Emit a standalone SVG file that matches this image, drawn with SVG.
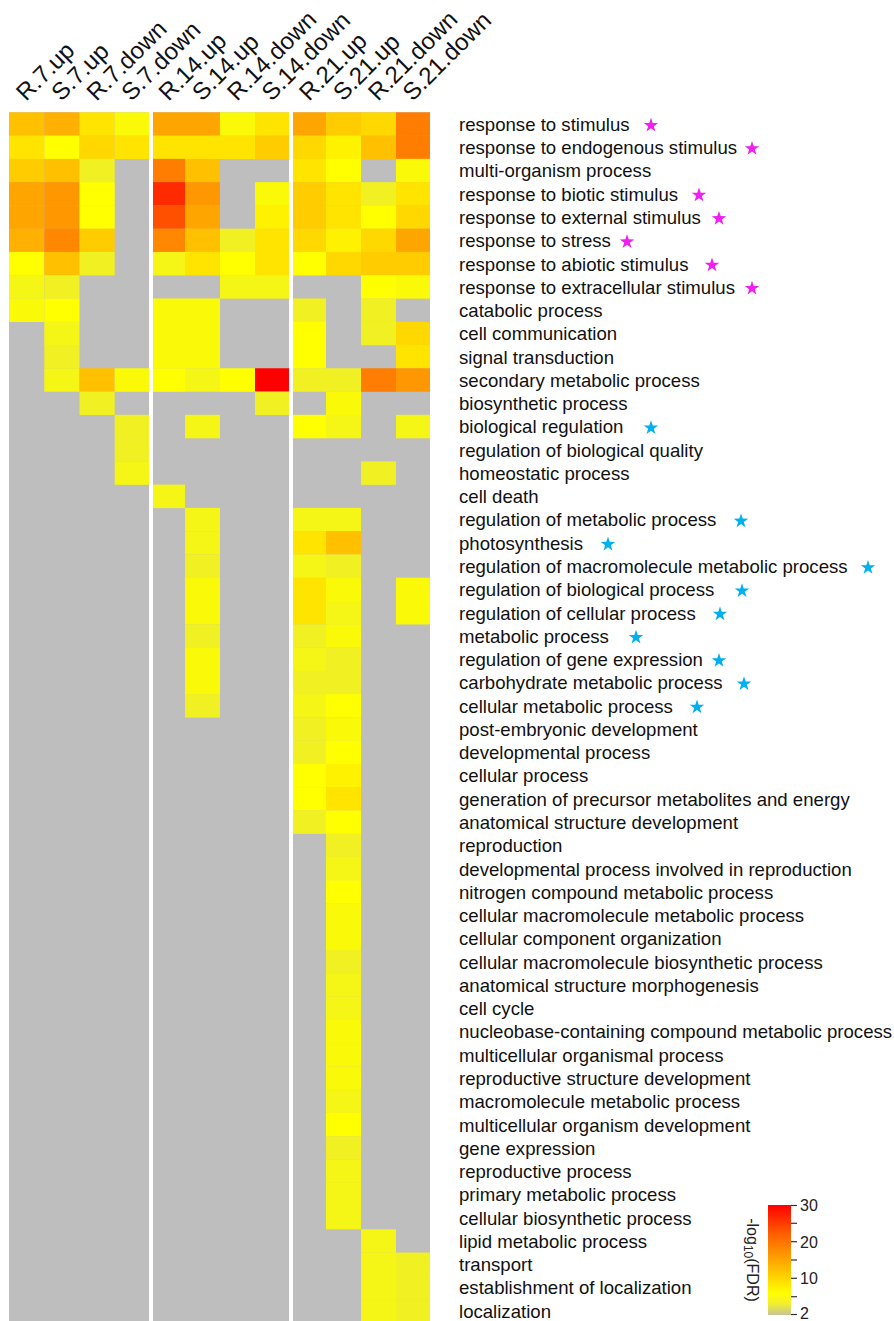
<svg xmlns="http://www.w3.org/2000/svg" width="894" height="1321" viewBox="0 0 894 1321">
<style>
.G{fill:#bebebe}
.a{fill:#ffff00}.b{fill:#fafa08}.c{fill:#f5f516}.d{fill:#f0f022}.e{fill:#fff200}.f{fill:#ffe400}.h{fill:#ffd800}.i{fill:#ffcc00}.j{fill:#ffc000}.k{fill:#ffb000}.l{fill:#ffa500}.m{fill:#ff9800}.n{fill:#ff8800}.o{fill:#ff7d00}.p{fill:#ff5000}.q{fill:#ff2a00}.r{fill:#ff0000}
.lbl{font-family:"Liberation Sans",Arial,sans-serif;font-size:18.6px;fill:#111}
.col{font-family:"Liberation Sans",Arial,sans-serif;font-size:24px;fill:#111}
.tk{font-family:"Liberation Sans",Arial,sans-serif;font-size:16px;fill:#222}
.sm{fill:#f01ef0}.sb{fill:#00b0f0}
</style>
<defs>
<polygon id="star" points="0,-7.6 1.734,-2.387 7.228,-2.349 2.806,0.912 4.467,6.149 0,2.95 -4.467,6.149 -2.806,0.912 -7.228,-2.349 -1.734,-2.387"/>
<linearGradient id="cb" x1="0" y1="0" x2="0" y2="1">
<stop offset="0" stop-color="#ff0000"/>
<stop offset="0.25" stop-color="#ff5a00"/>
<stop offset="0.5" stop-color="#ffa500"/>
<stop offset="0.8" stop-color="#ffff00"/>
<stop offset="0.9" stop-color="#f2ee30"/>
<stop offset="1" stop-color="#c4c49a"/>
</linearGradient>
</defs>
<rect width="894" height="1321" fill="#fff"/>
<g id="column-labels">
<text class="col" transform="translate(26,102) rotate(-45)">R.7.up</text>
<text class="col" transform="translate(61.3,102) rotate(-45)">S.7.up</text>
<text class="col" transform="translate(96.5,102) rotate(-45)">R.7.down</text>
<text class="col" transform="translate(131.3,102) rotate(-45)">S.7.down</text>
<text class="col" transform="translate(168.4,102) rotate(-45)">R.14.up</text>
<text class="col" transform="translate(201.9,102) rotate(-45)">S.14.up</text>
<text class="col" transform="translate(236.9,102) rotate(-45)">R.14.down</text>
<text class="col" transform="translate(271.4,102) rotate(-45)">S.14.down</text>
<text class="col" transform="translate(308.9,102) rotate(-45)">R.21.up</text>
<text class="col" transform="translate(342.9,102) rotate(-45)">S.21.up</text>
<text class="col" transform="translate(377.9,102) rotate(-45)">R.21.down</text>
<text class="col" transform="translate(412.4,102) rotate(-45)">S.21.down</text>
</g>
<g id="heatmap-background">
<rect class="G" x="9" y="112.3" width="140" height="1210"/>
<rect class="G" x="153" y="112.3" width="136" height="1210"/>
<rect class="G" x="293" y="112.3" width="137" height="1210"/>
</g>
<g id="heatmap-cells">
<g id="r1" transform="translate(0,112.3)"><rect class="j" x="9" width="35.3" height="23.5"/><rect class="k" x="44.3" width="35.2" height="23.5"/><rect class="f" x="79.5" width="35.2" height="23.5"/><rect class="b" x="114.7" width="34.3" height="23.5"/><rect class="l" x="153" width="32" height="23.5"/><rect class="l" x="185" width="35" height="23.5"/><rect class="b" x="220" width="35" height="23.5"/><rect class="f" x="255" width="34" height="23.5"/><rect class="l" x="293" width="33" height="23.5"/><rect class="i" x="326" width="35" height="23.5"/><rect class="h" x="361" width="35" height="23.5"/><rect class="o" x="396" width="34" height="23.5"/></g>
<g id="r2" transform="translate(0,135.57)"><rect class="f" x="9" width="35.3" height="23.5"/><rect class="a" x="44.3" width="35.2" height="23.5"/><rect class="h" x="79.5" width="35.2" height="23.5"/><rect class="f" x="114.7" width="34.3" height="23.5"/><rect class="f" x="153" width="32" height="23.5"/><rect class="f" x="185" width="35" height="23.5"/><rect class="f" x="220" width="35" height="23.5"/><rect class="i" x="255" width="34" height="23.5"/><rect class="h" x="293" width="33" height="23.5"/><rect class="e" x="326" width="35" height="23.5"/><rect class="j" x="361" width="35" height="23.5"/><rect class="o" x="396" width="34" height="23.5"/></g>
<g id="r3" transform="translate(0,158.84)"><rect class="i" x="9" width="35.3" height="23.5"/><rect class="j" x="44.3" width="35.2" height="23.5"/><rect class="d" x="79.5" width="35.2" height="23.5"/><rect class="o" x="153" width="32" height="23.5"/><rect class="j" x="185" width="35" height="23.5"/><rect class="f" x="293" width="33" height="23.5"/><rect class="a" x="326" width="35" height="23.5"/><rect class="b" x="396" width="34" height="23.5"/></g>
<g id="r4" transform="translate(0,182.11)"><rect class="l" x="9" width="35.3" height="23.5"/><rect class="m" x="44.3" width="35.2" height="23.5"/><rect class="a" x="79.5" width="35.2" height="23.5"/><rect class="q" x="153" width="32" height="23.5"/><rect class="m" x="185" width="35" height="23.5"/><rect class="b" x="255" width="34" height="23.5"/><rect class="i" x="293" width="33" height="23.5"/><rect class="f" x="326" width="35" height="23.5"/><rect class="d" x="361" width="35" height="23.5"/><rect class="f" x="396" width="34" height="23.5"/></g>
<g id="r5" transform="translate(0,205.38)"><rect class="l" x="9" width="35.3" height="23.5"/><rect class="m" x="44.3" width="35.2" height="23.5"/><rect class="a" x="79.5" width="35.2" height="23.5"/><rect class="p" x="153" width="32" height="23.5"/><rect class="l" x="185" width="35" height="23.5"/><rect class="e" x="255" width="34" height="23.5"/><rect class="i" x="293" width="33" height="23.5"/><rect class="f" x="326" width="35" height="23.5"/><rect class="a" x="361" width="35" height="23.5"/><rect class="h" x="396" width="34" height="23.5"/></g>
<g id="r6" transform="translate(0,228.65)"><rect class="k" x="9" width="35.3" height="23.5"/><rect class="n" x="44.3" width="35.2" height="23.5"/><rect class="i" x="79.5" width="35.2" height="23.5"/><rect class="n" x="153" width="32" height="23.5"/><rect class="j" x="185" width="35" height="23.5"/><rect class="d" x="220" width="35" height="23.5"/><rect class="f" x="255" width="34" height="23.5"/><rect class="h" x="293" width="33" height="23.5"/><rect class="e" x="326" width="35" height="23.5"/><rect class="h" x="361" width="35" height="23.5"/><rect class="l" x="396" width="34" height="23.5"/></g>
<g id="r7" transform="translate(0,251.92)"><rect class="a" x="9" width="35.3" height="23.5"/><rect class="j" x="44.3" width="35.2" height="23.5"/><rect class="d" x="79.5" width="35.2" height="23.5"/><rect class="c" x="153" width="32" height="23.5"/><rect class="f" x="185" width="35" height="23.5"/><rect class="a" x="220" width="35" height="23.5"/><rect class="f" x="255" width="34" height="23.5"/><rect class="a" x="293" width="33" height="23.5"/><rect class="h" x="326" width="35" height="23.5"/><rect class="i" x="361" width="35" height="23.5"/><rect class="i" x="396" width="34" height="23.5"/></g>
<g id="r8" transform="translate(0,275.19)"><rect class="c" x="9" width="35.3" height="23.5"/><rect class="d" x="44.3" width="35.2" height="23.5"/><rect class="c" x="220" width="35" height="23.5"/><rect class="c" x="255" width="34" height="23.5"/><rect class="a" x="361" width="35" height="23.5"/><rect class="b" x="396" width="34" height="23.5"/></g>
<g id="r9" transform="translate(0,298.46)"><rect class="b" x="9" width="35.3" height="23.5"/><rect class="a" x="44.3" width="35.2" height="23.5"/><rect class="b" x="153" width="32" height="23.5"/><rect class="b" x="185" width="35" height="23.5"/><rect class="d" x="293" width="33" height="23.5"/><rect class="d" x="361" width="35" height="23.5"/></g>
<g id="r10" transform="translate(0,321.73)"><rect class="c" x="44.3" width="35.2" height="23.5"/><rect class="b" x="153" width="32" height="23.5"/><rect class="b" x="185" width="35" height="23.5"/><rect class="a" x="293" width="33" height="23.5"/><rect class="d" x="361" width="35" height="23.5"/><rect class="h" x="396" width="34" height="23.5"/></g>
<g id="r11" transform="translate(0,345)"><rect class="d" x="44.3" width="35.2" height="23.5"/><rect class="b" x="153" width="32" height="23.5"/><rect class="b" x="185" width="35" height="23.5"/><rect class="a" x="293" width="33" height="23.5"/><rect class="f" x="396" width="34" height="23.5"/></g>
<g id="r12" transform="translate(0,368.27)"><rect class="c" x="44.3" width="35.2" height="23.5"/><rect class="j" x="79.5" width="35.2" height="23.5"/><rect class="b" x="114.7" width="34.3" height="23.5"/><rect class="a" x="153" width="32" height="23.5"/><rect class="c" x="185" width="35" height="23.5"/><rect class="a" x="220" width="35" height="23.5"/><rect class="r" x="255" width="34" height="23.5"/><rect class="d" x="293" width="33" height="23.5"/><rect class="d" x="326" width="35" height="23.5"/><rect class="o" x="361" width="35" height="23.5"/><rect class="m" x="396" width="34" height="23.5"/></g>
<g id="r13" transform="translate(0,391.54)"><rect class="d" x="79.5" width="35.2" height="23.5"/><rect class="d" x="255" width="34" height="23.5"/><rect class="b" x="326" width="35" height="23.5"/></g>
<g id="r14" transform="translate(0,414.81)"><rect class="d" x="114.7" width="34.3" height="23.5"/><rect class="c" x="185" width="35" height="23.5"/><rect class="a" x="293" width="33" height="23.5"/><rect class="c" x="326" width="35" height="23.5"/><rect class="c" x="396" width="34" height="23.5"/></g>
<g id="r15" transform="translate(0,438.08)"><rect class="d" x="114.7" width="34.3" height="23.5"/></g>
<g id="r16" transform="translate(0,461.35)"><rect class="c" x="114.7" width="34.3" height="23.5"/><rect class="d" x="361" width="35" height="23.5"/></g>
<g id="r17" transform="translate(0,484.62)"><rect class="c" x="153" width="32" height="23.5"/></g>
<g id="r18" transform="translate(0,507.89)"><rect class="c" x="185" width="35" height="23.5"/><rect class="c" x="293" width="33" height="23.5"/><rect class="c" x="326" width="35" height="23.5"/></g>
<g id="r19" transform="translate(0,531.16)"><rect class="c" x="185" width="35" height="23.5"/><rect class="f" x="293" width="33" height="23.5"/><rect class="j" x="326" width="35" height="23.5"/></g>
<g id="r20" transform="translate(0,554.43)"><rect class="d" x="185" width="35" height="23.5"/><rect class="c" x="293" width="33" height="23.5"/><rect class="d" x="326" width="35" height="23.5"/></g>
<g id="r21" transform="translate(0,577.7)"><rect class="b" x="185" width="35" height="23.5"/><rect class="f" x="293" width="33" height="23.5"/><rect class="b" x="326" width="35" height="23.5"/><rect class="b" x="396" width="34" height="23.5"/></g>
<g id="r22" transform="translate(0,600.97)"><rect class="b" x="185" width="35" height="23.5"/><rect class="f" x="293" width="33" height="23.5"/><rect class="c" x="326" width="35" height="23.5"/><rect class="b" x="396" width="34" height="23.5"/></g>
<g id="r23" transform="translate(0,624.24)"><rect class="d" x="185" width="35" height="23.5"/><rect class="d" x="293" width="33" height="23.5"/><rect class="b" x="326" width="35" height="23.5"/></g>
<g id="r24" transform="translate(0,647.51)"><rect class="b" x="185" width="35" height="23.5"/><rect class="c" x="293" width="33" height="23.5"/><rect class="d" x="326" width="35" height="23.5"/></g>
<g id="r25" transform="translate(0,670.78)"><rect class="b" x="185" width="35" height="23.5"/><rect class="d" x="293" width="33" height="23.5"/><rect class="d" x="326" width="35" height="23.5"/></g>
<g id="r26" transform="translate(0,694.05)"><rect class="d" x="185" width="35" height="23.5"/><rect class="c" x="293" width="33" height="23.5"/><rect class="a" x="326" width="35" height="23.5"/></g>
<g id="r27" transform="translate(0,717.32)"><rect class="d" x="293" width="33" height="23.5"/><rect class="b" x="326" width="35" height="23.5"/></g>
<g id="r28" transform="translate(0,740.59)"><rect class="d" x="293" width="33" height="23.5"/><rect class="a" x="326" width="35" height="23.5"/></g>
<g id="r29" transform="translate(0,763.86)"><rect class="a" x="293" width="33" height="23.5"/><rect class="e" x="326" width="35" height="23.5"/></g>
<g id="r30" transform="translate(0,787.13)"><rect class="a" x="293" width="33" height="23.5"/><rect class="f" x="326" width="35" height="23.5"/></g>
<g id="r31" transform="translate(0,810.4)"><rect class="d" x="293" width="33" height="23.5"/><rect class="a" x="326" width="35" height="23.5"/></g>
<g id="r32" transform="translate(0,833.67)"><rect class="d" x="326" width="35" height="23.5"/></g>
<g id="r33" transform="translate(0,856.94)"><rect class="c" x="326" width="35" height="23.5"/></g>
<g id="r34" transform="translate(0,880.21)"><rect class="a" x="326" width="35" height="23.5"/></g>
<g id="r35" transform="translate(0,903.48)"><rect class="b" x="326" width="35" height="23.5"/></g>
<g id="r36" transform="translate(0,926.75)"><rect class="b" x="326" width="35" height="23.5"/></g>
<g id="r37" transform="translate(0,950.02)"><rect class="d" x="326" width="35" height="23.5"/></g>
<g id="r38" transform="translate(0,973.29)"><rect class="c" x="326" width="35" height="23.5"/></g>
<g id="r39" transform="translate(0,996.56)"><rect class="c" x="326" width="35" height="23.5"/></g>
<g id="r40" transform="translate(0,1019.83)"><rect class="b" x="326" width="35" height="23.5"/></g>
<g id="r41" transform="translate(0,1043.1)"><rect class="b" x="326" width="35" height="23.5"/></g>
<g id="r42" transform="translate(0,1066.37)"><rect class="b" x="326" width="35" height="23.5"/></g>
<g id="r43" transform="translate(0,1089.64)"><rect class="c" x="326" width="35" height="23.5"/></g>
<g id="r44" transform="translate(0,1112.91)"><rect class="a" x="326" width="35" height="23.5"/></g>
<g id="r45" transform="translate(0,1136.18)"><rect class="d" x="326" width="35" height="23.5"/></g>
<g id="r46" transform="translate(0,1159.45)"><rect class="c" x="326" width="35" height="23.5"/></g>
<g id="r47" transform="translate(0,1182.72)"><rect class="c" x="326" width="35" height="23.5"/></g>
<g id="r48" transform="translate(0,1205.99)"><rect class="c" x="326" width="35" height="23.27"/></g>
<g id="r49" transform="translate(0,1229.26)"><rect class="c" x="361" width="35" height="23.5"/></g>
<g id="r50" transform="translate(0,1252.53)"><rect class="c" x="361" width="35" height="23.5"/><rect class="d" x="396" width="34" height="23.5"/></g>
<g id="r51" transform="translate(0,1275.8)"><rect class="c" x="361" width="35" height="23.5"/><rect class="d" x="396" width="34" height="23.5"/></g>
<g id="r52" transform="translate(0,1299.07)"><rect class="c" x="361" width="35" height="23.5"/><rect class="d" x="396" width="34" height="23.5"/></g>
</g>
<g id="row-labels" class="lbl">
<text x="459" y="130.9">response to stimulus</text>
<text x="459" y="154.17">response to endogenous stimulus</text>
<text x="459" y="177.44">multi-organism process</text>
<text x="459" y="200.71">response to biotic stimulus</text>
<text x="459" y="223.98">response to external stimulus</text>
<text x="459" y="247.25">response to stress</text>
<text x="459" y="270.52">response to abiotic stimulus</text>
<text x="459" y="293.79">response to extracellular stimulus</text>
<text x="459" y="317.06">catabolic process</text>
<text x="459" y="340.33">cell communication</text>
<text x="459" y="363.6">signal transduction</text>
<text x="459" y="386.87">secondary metabolic process</text>
<text x="459" y="410.14">biosynthetic process</text>
<text x="459" y="433.41">biological regulation</text>
<text x="459" y="456.68">regulation of biological quality</text>
<text x="459" y="479.95">homeostatic process</text>
<text x="459" y="503.22">cell death</text>
<text x="459" y="526.49">regulation of metabolic process</text>
<text x="459" y="549.76">photosynthesis</text>
<text x="459" y="573.03">regulation of macromolecule metabolic process</text>
<text x="459" y="596.3">regulation of biological process</text>
<text x="459" y="619.57">regulation of cellular process</text>
<text x="459" y="642.84">metabolic process</text>
<text x="459" y="666.11">regulation of gene expression</text>
<text x="459" y="689.38">carbohydrate metabolic process</text>
<text x="459" y="712.65">cellular metabolic process</text>
<text x="459" y="735.92">post-embryonic development</text>
<text x="459" y="759.19">developmental process</text>
<text x="459" y="782.46">cellular process</text>
<text x="459" y="805.73">generation of precursor metabolites and energy</text>
<text x="459" y="829">anatomical structure development</text>
<text x="459" y="852.27">reproduction</text>
<text x="459" y="875.54">developmental process involved in reproduction</text>
<text x="459" y="898.81">nitrogen compound metabolic process</text>
<text x="459" y="922.08">cellular macromolecule metabolic process</text>
<text x="459" y="945.35">cellular component organization</text>
<text x="459" y="968.62">cellular macromolecule biosynthetic process</text>
<text x="459" y="991.89">anatomical structure morphogenesis</text>
<text x="459" y="1015.16">cell cycle</text>
<text x="459" y="1038.43">nucleobase-containing compound metabolic process</text>
<text x="459" y="1061.7">multicellular organismal process</text>
<text x="459" y="1084.97">reproductive structure development</text>
<text x="459" y="1108.24">macromolecule metabolic process</text>
<text x="459" y="1131.51">multicellular organism development</text>
<text x="459" y="1154.78">gene expression</text>
<text x="459" y="1178.05">reproductive process</text>
<text x="459" y="1201.32">primary metabolic process</text>
<text x="459" y="1224.59">cellular biosynthetic process</text>
<text x="459" y="1247.86">lipid metabolic process</text>
<text x="459" y="1271.13">transport</text>
<text x="459" y="1294.4">establishment of localization</text>
<text x="459" y="1317.67">localization</text>
</g>
<g id="stars">
<use href="#star" class="sm" x="651" y="125.4"/>
<use href="#star" class="sm" x="752" y="148.67"/>
<use href="#star" class="sm" x="699" y="195.21"/>
<use href="#star" class="sm" x="719" y="218.48"/>
<use href="#star" class="sm" x="627" y="241.75"/>
<use href="#star" class="sm" x="712" y="265.02"/>
<use href="#star" class="sm" x="752" y="288.29"/>
<use href="#star" class="sb" x="651" y="427.91"/>
<use href="#star" class="sb" x="741" y="520.99"/>
<use href="#star" class="sb" x="608" y="544.26"/>
<use href="#star" class="sb" x="868" y="567.53"/>
<use href="#star" class="sb" x="742" y="590.8"/>
<use href="#star" class="sb" x="720" y="614.07"/>
<use href="#star" class="sb" x="636" y="637.34"/>
<use href="#star" class="sb" x="719" y="660.61"/>
<use href="#star" class="sb" x="744" y="683.88"/>
<use href="#star" class="sb" x="697" y="707.15"/>
</g>
<g id="legend">
<rect x="768" y="1205" width="23" height="110" fill="url(#cb)"/>
<g stroke="#333" stroke-width="1.2">
<line x1="791" y1="1205.5" x2="797" y2="1205.5"/>
<line x1="791" y1="1223.3" x2="797" y2="1223.3"/>
<line x1="791" y1="1241.7" x2="797" y2="1241.7"/>
<line x1="791" y1="1260" x2="797" y2="1260"/>
<line x1="791" y1="1278.3" x2="797" y2="1278.3"/>
<line x1="791" y1="1296.7" x2="797" y2="1296.7"/>
<line x1="791" y1="1314.5" x2="797" y2="1314.5"/>
</g>
<text class="tk" x="800" y="1211">30</text>
<text class="tk" x="800" y="1247.5">20</text>
<text class="tk" x="800" y="1284">10</text>
<text class="tk" x="800" y="1319">2</text>
<text class="tk" font-size="17" text-anchor="middle" transform="translate(747,1260) rotate(90)">-log<tspan font-size="12" dy="3">10</tspan><tspan dy="-3">(FDR)</tspan></text>
</g>
</svg>
